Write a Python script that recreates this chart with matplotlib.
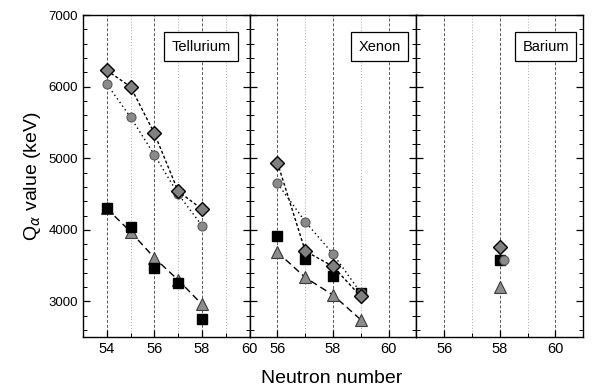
import matplotlib.pyplot as plt
from matplotlib.ticker import MultipleLocator

plt.rcParams['font.family'] = ['Liberation Sans', 'DejaVu Sans']

# Tellurium
te_n = [54, 55, 56, 57, 58]
te_diamond = [6230, 6000, 5350, 4540, 4290]
te_circle = [6040, 5575, 5050, 4500, 4060]
te_square = [4310, 4035, 3470, 3260, 2760]
te_triangle = [4300, 3975, 3610, 3300, 2960]

# Xenon
xe_n = [56, 57, 58, 59]
xe_diamond = [4940, 3705, 3490, 3070]
xe_circle = [4650, 4115, 3665, 3120]
xe_square = [3920, 3595, 3355, 3125]
xe_triangle = [3690, 3335, 3090, 2745]

# Barium
ba_n = [58]
ba_circle_n = [58.15]
ba_diamond = [3755]
ba_circle = [3580]
ba_square = [3575]
ba_triangle = [3200]

panels = [
    ("Tellurium", 0.885, (53, 60), [54, 56, 58, 60], te_n, te_n, te_diamond, te_circle, te_square, te_triangle, True),
    ("Xenon", 0.905, (55, 61), [56, 58, 60], xe_n, xe_n, xe_diamond, xe_circle, xe_square, xe_triangle, True),
    ("Barium", 0.915, (55, 61), [56, 58, 60], ba_n, ba_circle_n, ba_diamond, ba_circle, ba_square, ba_triangle, False),
]

fig, axes = plt.subplots(1, 3, figsize=(5.92, 3.89), dpi=100, sharey=True)
fig.subplots_adjust(left=0.140, right=0.985, top=0.961, bottom=0.133, wspace=0)

for ax, (name, bx, xlim, xt, n, nc, dia, cir, sq, tri, lines) in zip(axes, panels):
    ls_d = (0, (2.2, 1.6)) if lines else 'none'
    ls_c = (0, (1, 2.2)) if lines else 'none'
    ls_t = (0, (5, 3)) if lines else 'none'
    ax.plot(n, tri, linestyle=ls_t, color='black', lw=1.0, marker='^', ms=8,
            mfc='#8c8c8c', mec='#3a3a3a', mew=0.8, zorder=3)
    ax.plot(n, sq, linestyle='none', marker='s', ms=7.5,
            mfc='black', mec='black', zorder=4)
    ax.plot(nc, cir, linestyle=ls_c, color='black', lw=1.0, marker='o', ms=6.5,
            mfc='#8a8a8a', mec='#5a5a5a', mew=0.8, zorder=5)
    ax.plot(n, dia, linestyle=ls_d, color='black', lw=1.0, marker='D', ms=7.5,
            mfc='#808080', mec='black', mew=1.0, zorder=6)

    ax.set_xlim(*xlim)
    ax.set_ylim(2500, 7000)
    ax.set_xticks(xt)
    ax.xaxis.set_minor_locator(MultipleLocator(1))
    ax.yaxis.set_major_locator(MultipleLocator(1000))
    ax.yaxis.set_minor_locator(MultipleLocator(200))
    ax.tick_params(which='both', direction='in', left=True, right=True)
    ax.tick_params(axis='x', labelsize=10.5)
    ax.tick_params(axis='y', labelsize=9.5)
    ax.tick_params(which='major', length=5, width=0.9)
    ax.tick_params(which='minor', length=3, width=0.7)
    ax.grid(True, axis='x', which='major', linestyle=(0, (3, 2)), color='#555555', lw=0.7)
    ax.grid(True, axis='x', which='minor', linestyle=(0, (1, 2)), color='#aaaaaa', lw=0.7)
    for s in ax.spines.values():
        s.set_linewidth(1.0)
    ax.text(bx, 0.902, name, transform=ax.transAxes, ha='right', va='center',
            fontsize=10.5, zorder=10,
            bbox=dict(boxstyle='square,pad=0.5', fc='white', ec='black', lw=0.9))

axes[0].set_ylabel(r"Q$_\alpha$ value (keV)", fontsize=14)
fig.text(0.56, 0.028, "Neutron number", ha='center', va='center', fontsize=14)

plt.savefig("out.png", dpi=100)
